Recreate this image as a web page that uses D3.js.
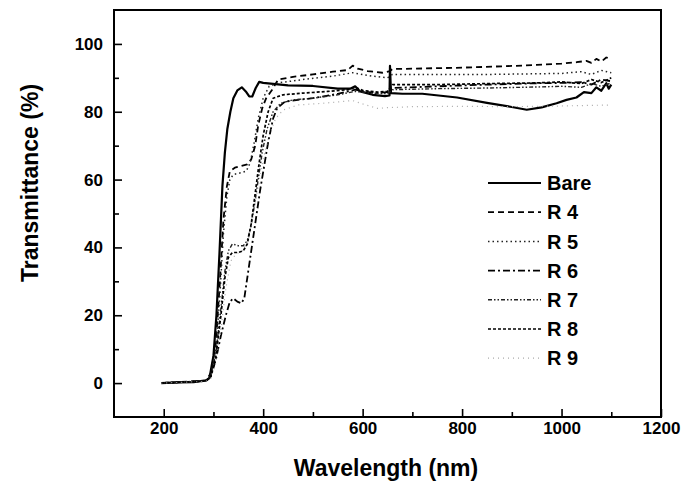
<!DOCTYPE html>
<html>
<head>
<meta charset="utf-8">
<script src="https://cdn.jsdelivr.net/npm/d3@7"></script>
<style>
  body { margin: 0; background: #fff; }
  svg text { font-family: Arial, "Liberation Sans", sans-serif; font-weight: bold; fill: #000; }
</style>
</head>
<body>
<div id="chart"></div>
<script>
const width = 681;
const height = 486;
const margin = { top: 10, right: 20, bottom: 69, left: 114 };

// [wavelength nm, transmittance %]
const bare = [[195,0],[230,0.2],[260,0.3],[285,0.8],[292,1.5],[300,8],[306,20],[312,38],[318,58],[323,68],[328,75],[334,80],[340,84],[348,86.3],[357,87.2],[365,86],[372,84.5],[378,84.5],[385,87],[392,88.8],[400,88.5],[420,88.2],[450,87.8],[500,87.6],[550,86.8],[575,86.8],[585,87.5],[595,86],[620,85],[645,84.6],[654,84.8],[655,93.5],[657,85.5],[680,85.3],[720,85.3],[790,84.2],[850,82.6],[900,81.4],[930,80.6],[960,81.3],[990,82.5],[1010,83.5],[1030,84.2],[1045,85.8],[1060,85.5],[1070,87.2],[1080,86.2],[1090,88.4],[1095,86.8],[1100,88]];
const r4 = [[195,0],[285,0.7],[295,3],[305,12],[313,30],[320,48],[327,58],[333,62.5],[343,63.5],[355,64],[368,64.5],[376,66],[384,70],[390,76],[398,81],[406,84],[418,86.5],[430,89.5],[460,90.3],[500,91],[540,91.8],[570,92.3],[580,93.6],[590,92.7],[610,92],[640,91.5],[655,92],[660,92.6],[700,92.7],[800,93],[900,93.5],[950,93.8],[1000,94.2],[1030,94.6],[1050,95],[1060,94.4],[1070,95.6],[1080,94.8],[1090,96],[1100,95.5]];
const r5 = [[195,0],[285,0.7],[295,2.5],[305,10],[313,26],[320,44],[327,55],[333,60],[340,61.5],[355,62],[366,62.5],[374,65],[382,71],[390,78],[400,84],[412,87.5],[430,88.5],[480,89.5],[540,90.5],[580,91.5],[620,90.5],[650,90],[660,91],[750,91],[850,91],[950,91.2],[1000,91.3],[1040,91.8],[1060,91],[1080,92.2],[1100,91.5]];
const r6 = [[195,0],[285,0.6],[295,2],[305,7],[315,14],[325,20],[333,24],[340,25],[348,24],[356,23.5],[362,25],[370,33],[382,45],[394,57],[402,64],[410,71],[420,78],[428,81],[444,83],[470,83.5],[500,84],[550,85.3],[585,86.5],[600,86],[630,85.5],[650,85.8],[660,87],[750,87.5],[850,88],[950,88.4],[1000,88.5],[1040,88.7],[1060,88],[1080,89.5],[1100,89]];
const r7 = [[195,0],[285,0.6],[295,2.2],[305,9],[315,22],[323,33],[330,39],[338,41],[350,40.5],[360,40.5],[368,42],[375,46],[382,52],[390,60],[398,68],[408,75],[420,80],[435,82.5],[460,83.5],[500,84],[550,85],[585,86],[620,85.5],[650,85.3],[660,86.5],[750,86.8],[850,87],[950,87.3],[1000,87.5],[1040,87.2],[1060,88.3],[1080,87.5],[1100,88.5]];
const r8 = [[195,0],[285,0.6],[295,2],[305,8],[315,20],[323,31],[330,37],[338,38.5],[350,38.5],[360,39],[368,41],[376,47],[384,56],[392,65],[400,73],[410,80],[420,84],[440,85],[480,85.5],[530,86],[570,86.5],[585,87.2],[600,86.3],[630,85.8],[650,86],[660,88],[750,88],[850,88.3],[950,88.5],[1000,88.8],[1040,88.3],[1060,89.5],[1080,88.6],[1100,90]];
const r9 = [[195,0],[285,0.5],[295,1.5],[305,6],[315,16],[325,28],[335,36],[345,38],[358,39],[370,42],[380,50],[390,58],[400,66],[412,73],[425,78],[440,80.5],[470,82],[520,82.5],[580,83.3],[600,82.3],[630,81],[650,81.2],[700,81.5],[800,81.6],[900,81.5],[1000,81.7],[1100,82]];

const seriesNames = ["Bare", "R 4", "R 5", "R 6", "R 7", "R 8", "R 9"];
const seriesData = [bare, r4, r5, r6, r7, r8, r9];

const xTicks = [200, 400, 600, 800, 1000, 1200];
const xMinorTicks = [300, 500, 700, 900, 1100];
const yTicks = [0, 20, 40, 60, 80, 100];
const yMinorTicks = [10, 30, 50, 70, 90];

const dashes = [null, "6,4", "1.5,3", "7,3,2,3", "4,2,1.5,2,1.5,2", "3,2", "1,4"];
const colors = ["#000", "#000", "#222", "#000", "#222", "#000", "#aaa"];
const widths = [2.2, 1.8, 1.5, 1.8, 1.4, 1.7, 1.2];

const svg = d3.select("#chart").append("svg")
  .attr("width", width)
  .attr("height", height);

const x = d3.scaleLinear()
  .domain([100, 1200])
  .range([margin.left, width - margin.right]);

const y = d3.scaleLinear()
  .domain([-10, 110])
  .range([height - margin.bottom, margin.top]);

const bottomY = height - margin.bottom;

// major + minor ticks, pointing inward
svg.append("g")
  .attr("transform", `translate(0,${bottomY})`)
  .call(d3.axisBottom(x).tickValues(xTicks).tickFormat(d3.format("d")).tickSize(-8).tickPadding(5))
  .call(g => g.select(".domain").remove())
  .call(g => g.selectAll("line").attr("stroke-width", 1.6))
  .call(g => g.selectAll("text").attr("font-size", 17));

svg.append("g")
  .attr("transform", `translate(0,${bottomY})`)
  .call(d3.axisBottom(x).tickValues(xMinorTicks).tickSize(-5).tickFormat(""))
  .call(g => g.select(".domain").remove())
  .call(g => g.selectAll("line").attr("stroke-width", 1.6));

svg.append("g")
  .attr("transform", `translate(${margin.left},0)`)
  .call(d3.axisLeft(y).tickValues(yTicks).tickFormat(d3.format("d")).tickSize(-8).tickPadding(11))
  .call(g => g.select(".domain").remove())
  .call(g => g.selectAll("line").attr("stroke-width", 1.6))
  .call(g => g.selectAll("text").attr("font-size", 17));

svg.append("g")
  .attr("transform", `translate(${margin.left},0)`)
  .call(d3.axisLeft(y).tickValues(yMinorTicks).tickSize(-5).tickFormat(""))
  .call(g => g.select(".domain").remove())
  .call(g => g.selectAll("line").attr("stroke-width", 1.6));

// frame
svg.append("rect")
  .attr("x", margin.left)
  .attr("y", margin.top)
  .attr("width", width - margin.right - margin.left)
  .attr("height", bottomY - margin.top)
  .attr("fill", "none")
  .attr("stroke", "#000")
  .attr("stroke-width", 2);

const line = d3.line()
  .x(d => x(d[0]))
  .y(d => y(d[1]));

svg.selectAll(".curve")
  .data(seriesData)
  .join("path")
  .attr("class", "curve")
  .attr("d", line)
  .attr("fill", "none")
  .attr("stroke", (d, i) => colors[i])
  .attr("stroke-width", (d, i) => widths[i])
  .attr("stroke-dasharray", (d, i) => dashes[i])
  .attr("stroke-linejoin", "round");

// legend
const legend = svg.append("g")
  .attr("transform", "translate(488,183)");

const items = legend.selectAll("g")
  .data(seriesNames)
  .join("g")
  .attr("transform", (d, i) => `translate(0,${i * 29.2})`);

items.append("line")
  .attr("x1", 0)
  .attr("x2", 53)
  .attr("stroke", (d, i) => colors[i])
  .attr("stroke-width", (d, i) => widths[i])
  .attr("stroke-dasharray", (d, i) => dashes[i]);

items.append("text")
  .attr("x", 59)
  .attr("dy", "0.36em")
  .attr("font-size", 20)
  .text(d => d);

// axis titles
svg.append("text")
  .attr("x", 386)
  .attr("y", 476)
  .attr("text-anchor", "middle")
  .attr("font-size", 23)
  .text("Wavelength (nm)");

svg.append("text")
  .attr("transform", "translate(38,183) rotate(-90)")
  .attr("text-anchor", "middle")
  .attr("font-size", 23)
  .text("Transmittance (%)");
</script>
</body>
</html>
